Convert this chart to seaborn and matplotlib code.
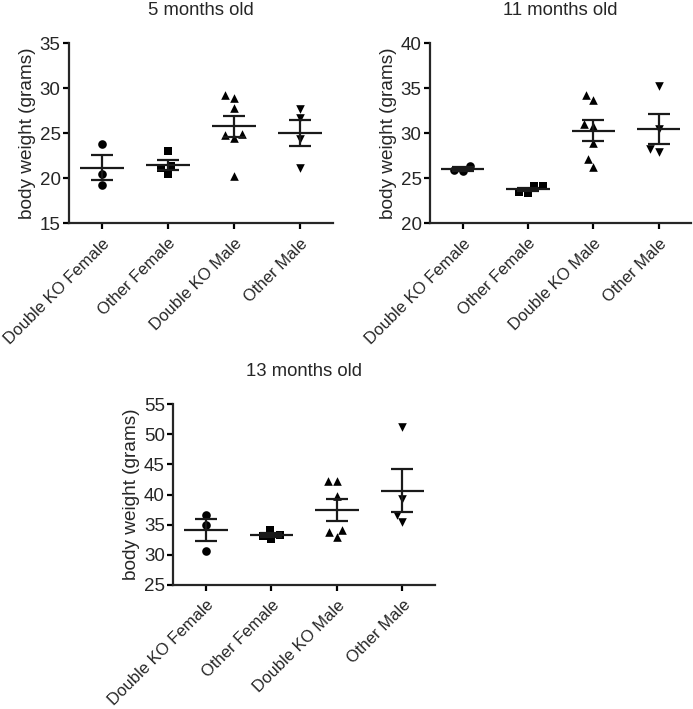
import numpy as np
import pandas as pd
import matplotlib
matplotlib.use('Agg')
import matplotlib.pyplot as plt
import seaborn as sns

# Groups and body weights (grams)
groups = ['Double KO Female', 'Other Female', 'Double KO Male', 'Other Male']
markers = ['o', 's', '^', 'v']

m5_dko_f = [23.8, 20.5, 19.3]
m5_oth_f = [23.0, 21.4, 21.1, 20.5]
m5_dko_m = [29.2, 28.9, 27.8, 24.8, 24.5, 24.9, 20.3]
m5_oth_m = [26.7, 27.7, 24.4, 21.2]

m11_dko_f = [26.4, 25.8, 25.9]
m11_oth_f = [24.1, 23.4, 23.5, 24.1]
m11_dko_m = [34.3, 33.7, 30.8, 31.0, 28.9, 26.3, 27.1]
m11_oth_m = [35.3, 30.5, 27.9, 28.2]

m13_dko_f = [36.6, 35.0, 30.6]
m13_oth_f = [33.3, 32.7, 33.1, 34.1]
m13_dko_m = [42.2, 42.2, 39.8, 34.1, 32.9, 33.7]
m13_oth_m = [51.2, 39.3, 36.6, 35.5]

panels = [
    ('5 months old', [m5_dko_f, m5_oth_f, m5_dko_m, m5_oth_m], (15, 35)),
    ('11 months old', [m11_dko_f, m11_oth_f, m11_dko_m, m11_oth_m], (20, 40)),
    ('13 months old', [m13_dko_f, m13_oth_f, m13_dko_m, m13_oth_m], (25, 55)),
]

sns.set_style('ticks')
plt.rcParams['font.family'] = ['Liberation Sans', 'DejaVu Sans']
plt.rcParams['axes.linewidth'] = 1.6

fig = plt.figure(figsize=(6.93, 7.09), dpi=100)
positions = [
    [0.0996, 0.685, 0.381, 0.254],
    [0.6205, 0.685, 0.377, 0.254],
    [0.250, 0.175, 0.378, 0.255],
]

for (title, values, ylim), pos in zip(panels, positions):
    ax = fig.add_axes(pos)
    df = pd.DataFrame({
        'group': np.repeat(groups, [len(v) for v in values]),
        'weight': np.concatenate(values),
    })
    for g, m in zip(groups, markers):
        sns.swarmplot(data=df[df['group'] == g], x='group', y='weight',
                      order=groups, marker=m, color='black', size=6.2,
                      linewidth=0, ax=ax, zorder=3)
    # mean +/- SEM
    for i, g in enumerate(groups):
        w = df.loc[df['group'] == g, 'weight'].to_numpy()
        mean = w.mean()
        sem = w.std(ddof=1) / np.sqrt(len(w))
        ax.hlines(mean, i - 0.33, i + 0.33, color='#1a1a1a', lw=1.6, zorder=4)
        ax.errorbar(i, mean, yerr=sem, color='#1a1a1a', lw=1.6,
                    capsize=8, capthick=1.6, zorder=4)

    ax.set_xlim(-0.5, 3.5)
    ax.set_ylim(*ylim)
    ax.set_yticks(np.arange(ylim[0], ylim[1] + 1, 5))
    ax.set_xlabel('')
    ax.set_ylabel('body weight (grams)', fontsize=13.7, labelpad=3)
    ax.set_title(title, fontsize=13.3, pad=20)
    ax.tick_params(axis='both', width=1.6, length=4, color='black', pad=2)
    ax.tick_params(axis='y', labelsize=13.5)
    ax.tick_params(axis='x', labelsize=12, pad=5)
    plt.setp(ax.get_xticklabels(), rotation=45, ha='right',
             rotation_mode='anchor')
    sns.despine(ax=ax)

fig.savefig('out.png', dpi=100)
